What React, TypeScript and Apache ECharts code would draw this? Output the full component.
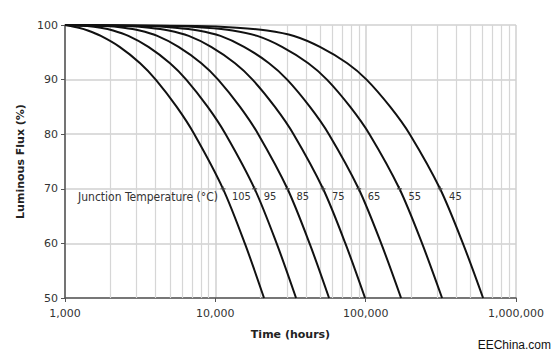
import React, { useEffect, useRef } from "react";
import * as echarts from "echarts";

// Luminous flux levels (%) read for every curve
const fluxLevels = [100, 99.8, 99.5, 99, 98, 96, 93, 90, 85, 80, 70, 60, 50];

// Time (hours) at which each curve reaches the flux levels above
const hours105 = [1000, 1093, 1235, 1418, 1731, 2308, 3160, 4013, 5536, 7249, 11252, 15714, 21087];
const hours95 = [1000, 1407, 1725, 2089, 2641, 3588, 4996, 6403, 8901, 11709, 18259, 25577, 34429];
const hours85 = [1000, 1843, 2454, 3136, 4112, 5691, 8070, 10438, 14599, 19294, 30179, 42339, 57080];
const hours75 = [1000, 2515, 3633, 4897, 6653, 9377, 13523, 17681, 24919, 33135, 52067, 73271, 99084];
const hours65 = [1000, 3448, 5402, 7684, 10813, 15522, 22766, 30041, 42600, 56905, 89830, 126800, 172000];
const hours55 = [1000, 5096, 8672, 13015, 19001, 27783, 41504, 55273, 78983, 105994, 167834, 237271, 322339];
const hours45 = [1000, 7544, 13922, 22045, 33339, 49652, 75435, 101388, 145770, 196521, 312612, 443304, 604087];

const temperatureLabels = ["105", "95", "85", "75", "65", "55", "45"];
const curveHours = [hours105, hours95, hours85, hours75, hours65, hours55, hours45];

// minor vertical grid lines (hours)
const minorHours = [
  2000, 3000, 4000, 5000, 6000, 7000, 8000, 9000,
  20000, 30000, 40000, 50000, 60000, 70000, 80000, 90000,
  200000, 300000, 400000, 500000, 600000, 700000, 800000, 900000,
];

const xTickLabels = ["1,000", "10,000", "100,000", "1,000,000"];
const labelFlux = 70;
const annotationHours = 1220;
const annotationText = "Junction Temperature (°C)";

const axisFont = "'DejaVu Sans', Verdana, sans-serif";
const noteFont = "'DejaVu Sans Condensed', Tahoma, 'Liberation Sans', sans-serif";

export default function App() {
  const ref = useRef<HTMLDivElement>(null);

  useEffect(() => {
    if (!ref.current) return;
    const chart = echarts.init(ref.current, undefined, { renderer: "svg" });
    const labelIdx = fluxLevels.indexOf(labelFlux);

    const curveSeries = curveHours.map((hrs, ci) => ({
      type: "line",
      name: temperatureLabels[ci],
      smooth: 0.3,
      symbol: "none",
      showSymbol: true,
      silent: true,
      clip: true,
      z: 5,
      lineStyle: { color: "#111", width: 2 },
      data: hrs.map((h, i) =>
        i === labelIdx
          ? {
              value: [h, fluxLevels[i]],
              symbol: "path://M0,4L8,4M4,0L4,8",
              symbolSize: 5,
              itemStyle: { color: "transparent", borderColor: "#444", borderWidth: 1 },
              label: {
                show: true,
                position: "right",
                distance: 6,
                offset: [0, 8],
                formatter: temperatureLabels[ci],
                color: "#333",
                fontSize: 11,
                fontFamily: noteFont,
              },
            }
          : [h, fluxLevels[i]]
      ),
      markPoint:
        ci === 0
          ? {
              silent: true,
              symbol: "rect",
              symbolSize: 0.1,
              itemStyle: { color: "transparent" },
              label: {
                show: true,
                position: "right",
                distance: 0,
                offset: [0, 8],
                formatter: annotationText,
                color: "#333",
                fontSize: 12,
                fontFamily: noteFont,
              },
              data: [{ coord: [annotationHours, labelFlux] }],
            }
          : undefined,
    }));

    chart.setOption({
      animation: false,
      backgroundColor: "#fff",
      grid: { left: 65, right: 42, top: 25, bottom: 61 },
      xAxis: {
        type: "log",
        logBase: 10,
        min: 1000,
        max: 1000000,
        name: "Time (hours)",
        nameLocation: "middle",
        nameGap: 31,
        nameTextStyle: { fontWeight: "bold", fontSize: 11, color: "#222", fontFamily: axisFont },
        axisLine: { show: true, lineStyle: { color: "#555", width: 1.5 } },
        axisTick: { show: true, length: 4, lineStyle: { color: "#555" } },
        axisLabel: {
          fontSize: 11,
          color: "#333",
          margin: 10,
          fontFamily: axisFont,
          formatter: (v: number) => xTickLabels[Math.round(Math.log10(v)) - 3] ?? "",
        },
        splitLine: { show: true, lineStyle: { color: "#d0d0d0", width: 1.5 } },
      },
      yAxis: {
        type: "value",
        min: 50,
        max: 100,
        interval: 10,
        name: "Luminous Flux (%)",
        nameLocation: "middle",
        nameGap: 31,
        nameTextStyle: { fontWeight: "bold", fontSize: 11, color: "#222", fontFamily: axisFont },
        axisLine: { show: true, lineStyle: { color: "#555", width: 1.5 } },
        axisTick: { show: true, length: 4, lineStyle: { color: "#555" } },
        axisLabel: { fontSize: 11, color: "#333", margin: 7, fontFamily: axisFont },
        splitLine: { show: true, lineStyle: { color: "#d0d0d0", width: 1.5 } },
      },
      graphic: [
        {
          type: "text",
          right: 7,
          bottom: 8,
          style: {
            text: "EEChina.com",
            fill: "#111",
            font: "12px 'Liberation Sans', Arial, sans-serif",
          },
        },
      ],
      series: [
        {
          type: "line",
          name: "minor-grid",
          data: [],
          symbol: "none",
          silent: true,
          z: 1,
          markLine: {
            silent: true,
            symbol: ["none", "none"],
            label: { show: false },
            lineStyle: { color: "#d6d6d6", width: 1.2, type: "solid" },
            data: minorHours.map((h) => ({ xAxis: h })),
          },
        },
        ...curveSeries,
      ],
    });

    return () => chart.dispose();
  }, []);

  return (
    <div
      ref={ref}
      style={{ position: "fixed", left: 0, top: 0, width: 558, height: 359, background: "#fff" }}
    />
  );
}
